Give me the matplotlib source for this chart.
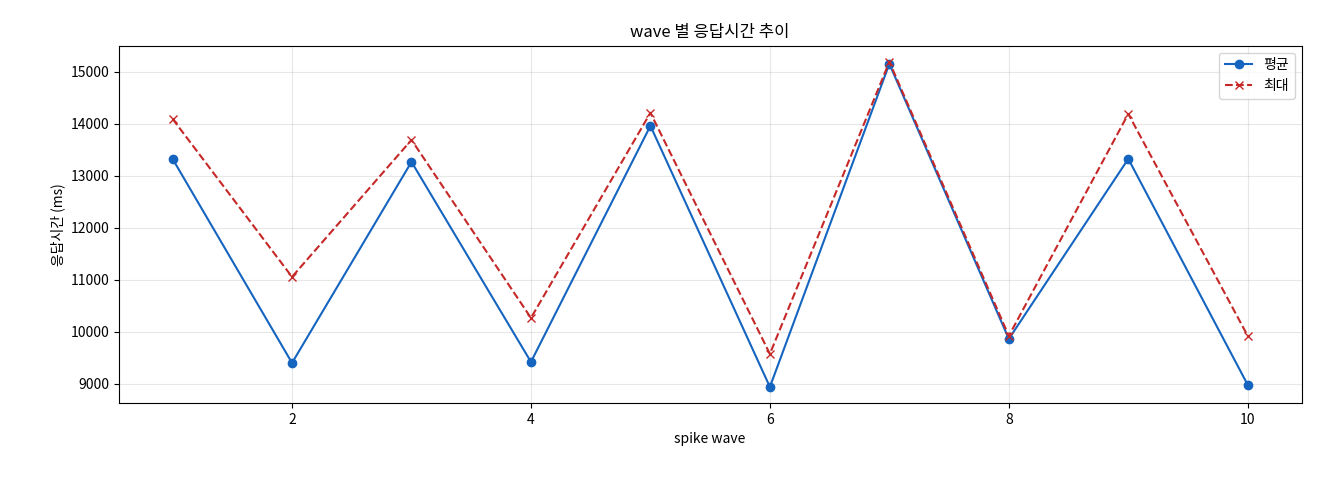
import matplotlib
matplotlib.use("Agg")
import matplotlib.pyplot as plt

plt.rcParams['font.family'] = ['Noto Sans CJK KR', 'DejaVu Sans']

waves = [1, 2, 3, 4, 5, 6, 7, 8, 9, 10]
avg_ms = [13327, 9404, 13269, 9423, 13962, 8942, 15154, 9865, 13327, 8981]
max_ms = [14096, 11058, 13692, 10269, 14212, 9577, 15192, 9923, 14192, 9923]

fig, ax = plt.subplots(figsize=(13.2, 4.8), dpi=100)
ax.plot(waves, avg_ms, marker='o', color='#1565c0', linewidth=1.5, markersize=6, label='평균')
ax.plot(waves, max_ms, marker='x', linestyle='--', color='#c62828', linewidth=1.5, markersize=6, label='최대')
ax.set_title('wave 별 응답시간 추이')
ax.set_xlabel('spike wave')
ax.set_ylabel('응답시간 (ms)')
ax.grid(True, alpha=0.3)
ax.legend(loc='upper right')
fig.subplots_adjust(left=0.09, right=0.986, top=0.905, bottom=0.16)
fig.savefig('out.png')
